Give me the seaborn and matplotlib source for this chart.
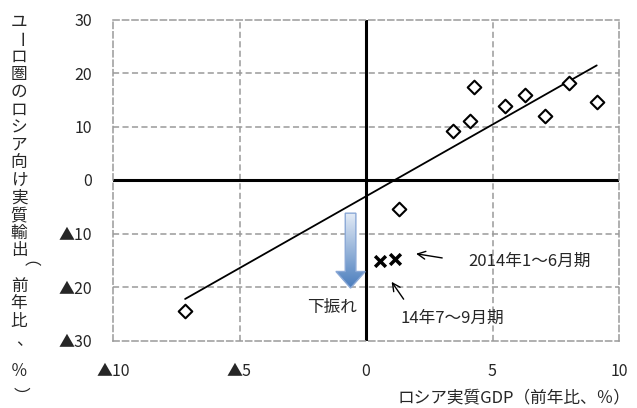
import numpy as np
import matplotlib
matplotlib.use("Agg")
import matplotlib.pyplot as plt
import seaborn as sns
from matplotlib.patches import Polygon
from matplotlib.colors import LinearSegmentedColormap

# Russian real GDP growth vs. euro-area real exports to Russia (y/y, %)
gdp_growth = [4.27, 4.11, 3.44, 5.49, 6.28, 7.09, 8.04, 9.12, 1.32, -7.15]
export_growth = [17.4, 11.0, 9.2, 13.8, 15.9, 12.0, 18.1, 14.6, -5.4, -24.4]

# 2014 observations
recent_gdp = [0.55, 1.15]
recent_export = [-15.1, -14.8]

x_ticks = [-10, -5, 0, 5, 10]
x_tick_labels = ["▲10", "▲5", "0", "5", "10"]
y_ticks = [30, 20, 10, 0, -10, -20, -30]
y_tick_labels = ["30", "20", "10", "0", "▲10", "▲20", "▲30"]

y_title = "ユーロ圏のロシア向け実質輸出（前年比、％）"
x_title = "ロシア実質GDP（前年比、％）"

sns.set_style("white")
plt.rcParams["font.family"] = ["Noto Sans CJK JP", "DejaVu Sans"]

fig = plt.figure(figsize=(6.37, 4.08), dpi=100)
ax = fig.add_axes([113 / 637, 1 - 340.5 / 408, (619 - 113) / 637, (340.5 - 19.5) / 408])

ax.set_xlim(-10, 10)
ax.set_ylim(-30, 30)

# dashed grid and frame
grid_kw = dict(color="#9a9a9a", lw=1.1, ls=(0, (4, 2.2)))
for gx in [-5, 5]:
    ax.axvline(gx, **grid_kw, zorder=0)
for gy in [20, 10, -10, -20]:
    ax.axhline(gy, **grid_kw, zorder=0)
for sp in ax.spines.values():
    sp.set_color("#9a9a9a")
    sp.set_linewidth(1.1)
    sp.set_linestyle((0, (4, 2.2)))

# zero axes
ax.axhline(0, color="black", lw=2.2, zorder=1)
ax.axvline(0, color="black", lw=2.2, zorder=1)

# regression line over the historical observations
sns.regplot(x=gdp_growth, y=export_growth, scatter=False, ci=None, truncate=True,
            line_kws=dict(color="black", lw=1.3), ax=ax)

sns.scatterplot(x=gdp_growth, y=export_growth, marker="D", s=48,
                facecolor="white", edgecolor="black", linewidth=1.5, ax=ax, zorder=4)
sns.scatterplot(x=recent_gdp, y=recent_export, marker="x", s=60,
                color="black", linewidth=2.5, ax=ax, zorder=4)

ax.set_xticks(x_ticks)
ax.set_xticklabels(x_tick_labels, fontsize=11.5)
ax.set_yticks(y_ticks)
ax.set_yticklabels(y_tick_labels, fontsize=11.5)
ax.tick_params(axis="x", length=0, pad=16)
ax.tick_params(axis="y", length=0, pad=15)
ax.set_xlabel("")
ax.set_ylabel("")

# downward gradient arrow
cx = -0.61
shaft_half, head_half = 0.21, 0.58
top, head_top, tip = -6.2, -17.1, -20.2
arrow_pts = [(cx - shaft_half, top), (cx + shaft_half, top), (cx + shaft_half, head_top),
             (cx + head_half, head_top), (cx, tip), (cx - head_half, head_top),
             (cx - shaft_half, head_top)]
arrow = Polygon(arrow_pts, closed=True, facecolor="none", edgecolor="#8aa8d6", lw=1.0, zorder=3)
ax.add_patch(arrow)
grad = np.linspace(0, 1, 256).reshape(-1, 1)
cmap = LinearSegmentedColormap.from_list("blueramp", ["#e3ebf6", "#4a7dbd"])
img = ax.imshow(grad, cmap=cmap, aspect="auto", origin="upper",
                extent=[cx - head_half, cx + head_half, tip, top], zorder=2)
img.set_clip_path(arrow)
ax.set_xlim(-10, 10)
ax.set_ylim(-30, 30)

ax.text(-0.36, -23.9, "下振れ", ha="right", va="center", fontsize=12)

# annotations for the 2014 observations
ax.annotate("", xy=(1.87, -13.7), xytext=(3.12, -14.65),
            arrowprops=dict(arrowstyle="->", color="black", lw=1.0, mutation_scale=14))
ax.text(4.05, -15.3, "2014年1～6月期", ha="left", va="center", fontsize=12)
ax.annotate("", xy=(0.95, -18.6), xytext=(1.55, -22.7),
            arrowprops=dict(arrowstyle="->", color="black", lw=1.0, mutation_scale=14))
ax.text(1.35, -25.8, "14年7～9月期", ha="left", va="center", fontsize=12)

# axis titles
fig.text(630 / 637, 1 - 398 / 408, x_title, ha="right", va="center", fontsize=12)

# vertical (tategaki) y-axis title, one glyph per cell
rotated = {"ー", "（", "）"}
for i, ch in enumerate(y_title):
    if i < 19:
        ypx = 22 + 17.6 * i
    elif ch == "％":
        ypx = 371
    else:
        ypx = 394
    xpx = 19
    if ch == "、":
        xpx, ypx = 24, ypx + 2
    fig.text(xpx / 637, 1 - ypx / 408, ch, ha="center", va="center", fontsize=12,
             rotation=-90 if ch in rotated else 0)

fig.savefig("out.png", dpi=100)
